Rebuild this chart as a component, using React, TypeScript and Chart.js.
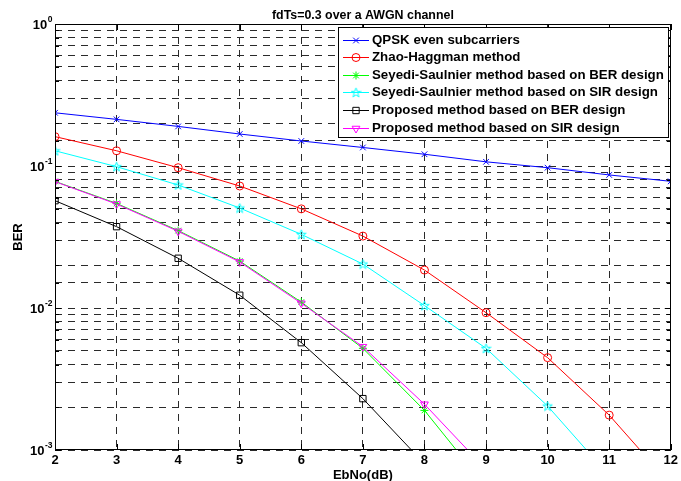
import React, { useEffect, useRef } from 'react';
import { Chart, registerables } from 'chart.js';
import { drawPoint } from 'chart.js/helpers';

Chart.register(...registerables);

// ---- data ----
const ebNo = [2, 3, 4, 5, 6, 7, 8, 9, 10, 11, 12];
const qpskEven = [0.237, 0.213, 0.19, 0.168, 0.15, 0.135, 0.121, 0.107, 0.0973, 0.0865, 0.078];
const zhaoHaggman = [0.161, 0.128, 0.0973, 0.0723, 0.0499, 0.0321, 0.0185, 0.00927, 0.00447, 0.00176, 0.00057];
const seyediBER = [0.0779, 0.0545, 0.0351, 0.0214, 0.011, 0.0052, 0.0019, 0.00055];
const seyediSIR = [0.128, 0.0989, 0.0735, 0.0506, 0.033, 0.0204, 0.0104, 0.0052, 0.00204, 0.00066];
const proposedBER = [0.057, 0.0374, 0.0224, 0.0123, 0.0057, 0.0023, 0.0008];
const proposedSIR = [0.0776, 0.054, 0.0347, 0.0211, 0.0108, 0.00534, 0.0021, 0.00073];

const seriesLabels = [
  'QPSK even subcarriers',
  'Zhao-Haggman method',
  'Seyedi-Saulnier method based on BER design',
  'Seyedi-Saulnier method based on SIR design',
  'Proposed method based on BER design',
  'Proposed method based on SIR design',
];
const seriesValues = [qpskEven, zhaoHaggman, seyediBER, seyediSIR, proposedBER, proposedSIR];
const seriesColors = ['#0000ff', '#ff0000', '#00ff00', '#00ffff', '#000000', '#ff00ff'];

const xMin = 2;
const xMax = 12;
const yMin = 0.001;
const yMax = 1;
const yMajorValues = [0.001, 0.01, 0.1, 1];
const yExponents = ['-3', '-2', '-1', '0'];
const titleText = 'fdTs=0.3 over a AWGN channel';
const xTitle = 'EbNo(dB)';
const yTitle = 'BER';

const FONT = '"Liberation Sans", Arial, Helvetica, sans-serif';
const GRID = '#2a2a2a';
const LEGEND_FONT = 13.3;
const AXIS_FONT = 13;

function makePentagram(color: string): HTMLCanvasElement {
  const c = document.createElement('canvas');
  c.width = 11;
  c.height = 11;
  const g = c.getContext('2d')!;
  g.strokeStyle = color;
  g.lineWidth = 1;
  g.beginPath();
  for (let i = 0; i < 10; i++) {
    const r = i % 2 === 0 ? 5 : 2;
    const a = -Math.PI / 2 + (i * Math.PI) / 5;
    const x = 5.5 + r * Math.cos(a);
    const y = 5.9 + r * Math.sin(a);
    if (i === 0) g.moveTo(x, y);
    else g.lineTo(x, y);
  }
  g.closePath();
  g.stroke();
  return c;
}

export default function App() {
  const ref = useRef<HTMLCanvasElement | null>(null);

  useEffect(() => {
    document.body.style.margin = '0';
    const canvas = ref.current;
    if (!canvas) return;

    const pent = makePentagram(seriesColors[3]);
    const markers: any[] = [
      { pointStyle: 'crossRot', radius: 4, rotation: 0 },
      { pointStyle: 'circle', radius: 4, rotation: 0 },
      { pointStyle: 'star', radius: 4, rotation: 0 },
      { pointStyle: pent, radius: 5, rotation: 0 },
      { pointStyle: 'rect', radius: 4.5, rotation: 0 },
      { pointStyle: 'triangle', radius: 4.5, rotation: 180 },
    ];

    const datasets = seriesLabels.map((label, i) => ({
      label,
      data: seriesValues[i].map((v, k) => ({ x: ebNo[k], y: v })),
      borderColor: seriesColors[i],
      backgroundColor: 'rgba(0,0,0,0)',
      borderWidth: 1,
      pointStyle: markers[i].pointStyle,
      pointRadius: markers[i].radius,
      pointRotation: markers[i].rotation,
      pointBorderColor: seriesColors[i],
      pointBackgroundColor: 'rgba(0,0,0,0)',
      pointBorderWidth: 1,
      tension: 0,
      order: seriesLabels.length - 1 - i,
    }));

    const isMajor = (v: number) => {
      const l = Math.log10(v);
      return Math.abs(l - Math.round(l)) < 1e-9;
    };

    const framePlugin = {
      id: 'frameAndLegend',
      afterDatasetsDraw(chart: any) {
        const { ctx, chartArea } = chart;
        const { left, right, top, bottom } = chartArea;
        const xs = chart.scales.x;
        const ys = chart.scales.y;
        ctx.save();
        ctx.strokeStyle = '#000';
        ctx.lineWidth = 1;
        ctx.setLineDash([]);
        // tick marks inside on all four sides
        ctx.beginPath();
        xs.ticks.forEach((t: any) => {
          const px = Math.round(xs.getPixelForValue(t.value)) + 0.5;
          ctx.moveTo(px, bottom);
          ctx.lineTo(px, bottom - 6);
          ctx.moveTo(px, top);
          ctx.lineTo(px, top + 6);
        });
        ys.ticks.forEach((t: any) => {
          const py = Math.round(ys.getPixelForValue(t.value)) + 0.5;
          const len = isMajor(t.value) ? 6 : 4;
          ctx.moveTo(left, py);
          ctx.lineTo(left + len, py);
          ctx.moveTo(right, py);
          ctx.lineTo(right - len, py);
        });
        ctx.stroke();
        // box
        ctx.strokeRect(Math.round(left) + 0.5, Math.round(top) + 0.5, Math.round(right - left) - 1, Math.round(bottom - top) - 1);

        // y tick labels 10^k
        yMajorValues.forEach((v, i) => {
          const py = ys.getPixelForValue(v);
          ctx.font = `bold 8.5px ${FONT}`;
          const ew = ctx.measureText(yExponents[i]).width;
          const xr = left - 2.5;
          ctx.fillStyle = '#000';
          ctx.textBaseline = 'middle';
          ctx.textAlign = 'left';
          ctx.fillText(yExponents[i], xr - ew, py - 4.5);
          ctx.font = `bold ${AXIS_FONT}px ${FONT}`;
          ctx.textAlign = 'right';
          ctx.fillText('10', xr - ew - 0.5, py + 1.5);
        });

        // legend
        ctx.font = `bold ${LEGEND_FONT}px ${FONT}`;
        const maxW = Math.max(...seriesLabels.map((s) => ctx.measureText(s).width));
        const rowH = 17.6;
        const boxW = Math.round(34 + maxW + 4);
        const boxH = Math.round(rowH * seriesLabels.length + 4.5);
        const bRight = Math.round(right) - 3;
        const bTop = Math.round(top) + 3;
        const bLeft = bRight - boxW;
        ctx.fillStyle = '#fff';
        ctx.fillRect(bLeft, bTop, boxW, boxH);
        ctx.strokeStyle = '#000';
        ctx.strokeRect(bLeft + 0.5, bTop + 0.5, boxW, boxH);
        seriesLabels.forEach((label, i) => {
          const y = bTop + 12.5 + i * rowH;
          const yl = Math.round(y) + 0.5;
          ctx.strokeStyle = seriesColors[i];
          ctx.lineWidth = 1;
          ctx.beginPath();
          ctx.moveTo(bLeft + 5, yl);
          ctx.lineTo(bLeft + 31, yl);
          ctx.stroke();
          ctx.fillStyle = 'rgba(0,0,0,0)';
          drawPoint(ctx, { pointStyle: markers[i].pointStyle, radius: markers[i].radius, rotation: markers[i].rotation, borderWidth: 1 } as any, bLeft + 18, yl);
          ctx.fillStyle = '#000';
          ctx.textAlign = 'left';
          ctx.textBaseline = 'middle';
          ctx.font = `bold ${LEGEND_FONT}px ${FONT}`;
          ctx.fillText(label, bLeft + 34, y + 0.5);
        });
        ctx.restore();
      },
    };

    const chart = new Chart(canvas, {
      type: 'line',
      data: { datasets: datasets as any },
      plugins: [framePlugin],
      options: {
        responsive: false,
        animation: false,
        devicePixelRatio: 1,
        layout: { padding: { left: 0, right: 7, top: 0, bottom: 0 } },
        plugins: {
          legend: { display: false },
          tooltip: { enabled: false },
          title: {
            display: true,
            text: titleText,
            fullSize: false,
            color: '#000',
            font: { family: FONT, size: 12.4, weight: 'bold', lineHeight: 1.2 },
            padding: { top: 8.5, bottom: 0.62 },
          },
        },
        scales: {
          x: {
            type: 'linear',
            min: xMin,
            max: xMax,
            afterFit: (s: any) => {
              s.height = 31;
            },
            ticks: {
              stepSize: 1,
              color: '#000',
              padding: 3,
              font: { family: FONT, size: AXIS_FONT, weight: 'bold' },
              callback: (v: any) => String(v),
            },
            grid: { color: GRID, lineWidth: 1, drawTicks: false },
            border: { display: false, dash: [7, 6] },
            title: {
              display: true,
              text: xTitle,
              color: '#000',
              font: { family: FONT, size: AXIS_FONT, weight: 'bold', lineHeight: 1 },
              padding: { top: 0, bottom: -1 },
            },
          },
          y: {
            type: 'logarithmic',
            min: yMin,
            max: yMax,
            afterFit: (s: any) => {
              s.width = 55;
            },
            ticks: {
              autoSkip: false,
              callback: () => '',
            },
            grid: { color: GRID, lineWidth: 1, drawTicks: false },
            border: { display: false, dash: [7, 6] },
            title: {
              display: true,
              text: yTitle,
              color: '#000',
              font: { family: FONT, size: AXIS_FONT, weight: 'bold', lineHeight: 1.2 },
              padding: { top: 10.5, bottom: 0 },
            },
          },
        },
      } as any,
    });

    return () => {
      chart.destroy();
    };
  }, []);

  return (
    <div style={{ width: 681, height: 481 }}>
      <canvas ref={ref} width={681} height={481} style={{ display: 'block' }} />
    </div>
  );
}
